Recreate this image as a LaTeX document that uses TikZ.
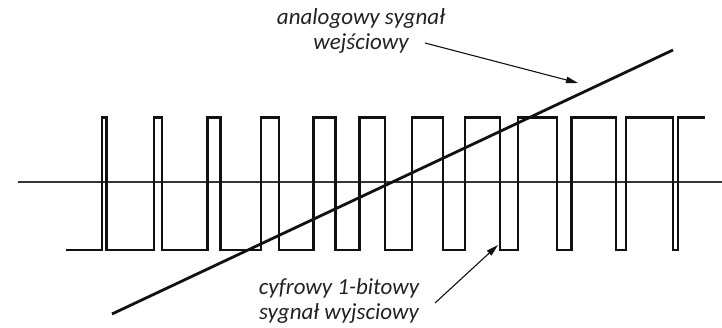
\documentclass[tikz,border=0pt]{standalone}
\usepackage{fontspec}
\setmainfont{Carlito}
\usetikzlibrary{arrows.meta}
\definecolor{ink}{HTML}{111111}
\definecolor{labelgray}{HTML}{222222}
\begin{document}
\begin{tikzpicture}[x=1pt,y=-1pt,
    axisline/.style={draw=ink!85, line width=1.3pt},
    pulses/.style={draw=ink, line width=2.3pt, line join=miter},
    ramp/.style={draw=ink, line width=2.8pt},
    pointer/.style={draw=ink, line width=1.1pt, -{Triangle[length=12pt,width=6.5pt]}},
    caption/.style={font=\fontsize{23}{25}\selectfont\itshape, text=labelgray, align=center, inner sep=0pt}]
\useasboundingbox (0,0) rectangle (722,328);

% time axis
\draw[axisline] (18,182) -- (722,182);

% 1-bit output stream
\draw[pulses] (66,250)
  -- (102,250) -- (102,117.5) -- (106.5,117.5) -- (106.5,250)
  -- (154,250) -- (154,117.5) -- (162,117.5) -- (162,250)
  -- (207.5,250) -- (207.5,117.5) -- (220.5,117.5) -- (220.5,250)
  -- (261,250) -- (261,117.5) -- (279,117.5) -- (279,250)
  -- (313.5,250) -- (313.5,117.5) -- (335.5,117.5) -- (335.5,250)
  -- (359.5,250) -- (359.5,117.5) -- (385,117.5) -- (385,250)
  -- (412,250) -- (412,117.5) -- (443,117.5) -- (443,250)
  -- (465,250) -- (465,117.5) -- (500,117.5) -- (500,250)
  -- (518,250) -- (518,117.5) -- (557,117.5) -- (557,250)
  -- (571.5,250) -- (571.5,117.5) -- (616,117.5) -- (616,250)
  -- (626,250) -- (626,117.5) -- (673,117.5) -- (673,250)
  -- (678,250) -- (678,117.5) -- (705,117.5);

% analog input ramp
\draw[ramp] (112,314) -- (673,50);

% labels
\node[caption] (inlabel) at (361,31) {analogowy sygnał\\wejściowy};
\node[caption] (outlabel) at (339,301) {cyfrowy 1-bitowy\\sygnał wyjsciowy};

% label pointers
\coordinate (inTail) at (425,43);
\coordinate (inHead) at (578,83);
\coordinate (outTail) at (435,303);
\coordinate (outHead) at (498,245);
\draw[pointer] (inTail) -- (inHead);
\draw[pointer] (outTail) -- (outHead);
\end{tikzpicture}
\end{document}
